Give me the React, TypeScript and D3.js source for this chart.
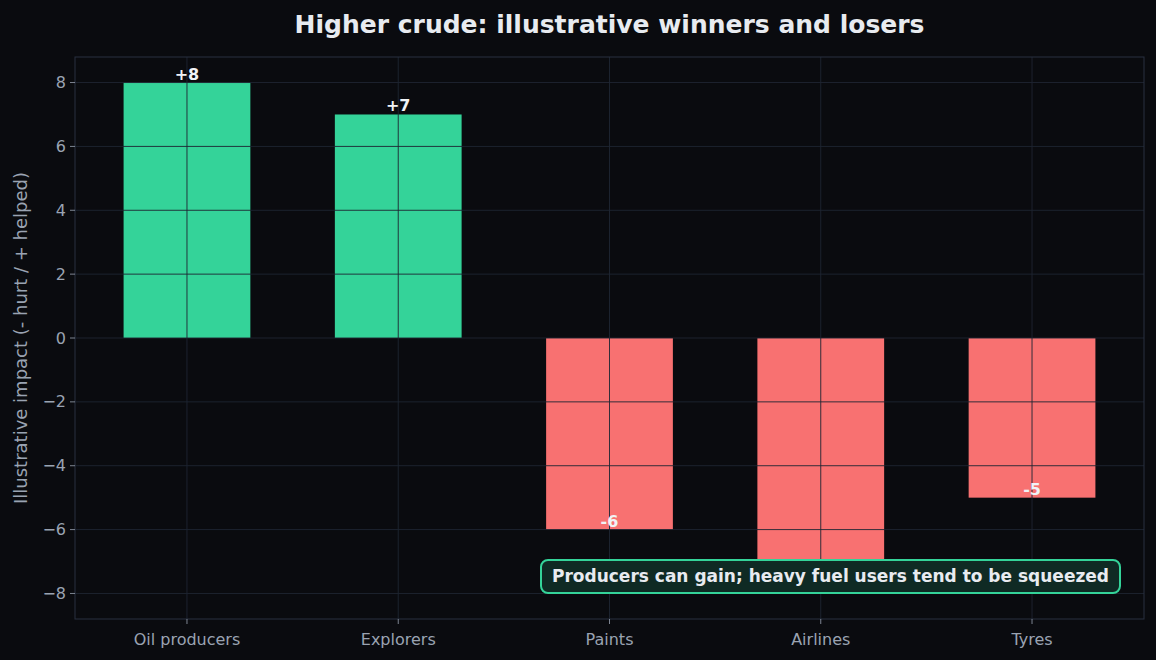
import React from 'react';
import * as d3 from 'd3';

const categories = ['Oil producers', 'Explorers', 'Paints', 'Airlines', 'Tyres'];
const impacts = [8, 7, -6, -8, -5];
const yTicks = [-8, -6, -4, -2, 0, 2, 4, 6, 8];
const title = 'Higher crude: illustrative winners and losers';
const yLabel = 'Illustrative impact (- hurt / + helped)';
const note = 'Producers can gain; heavy fuel users tend to be squeezed';

const W = 1156;
const H = 660;
const margin = { top: 57, right: 12, bottom: 41, left: 75 };

const BG = '#0a0b0f';
const GRID = '#1f2633';
const SPINE = '#283040';
const TICK = '#9aa3b2';
const GREEN = '#34d399';
const RED = '#f87171';
const FONT = '"DejaVu Sans", sans-serif';

const App: React.FC = () => {
  const innerW = W - margin.left - margin.right;
  const innerH = H - margin.top - margin.bottom;

  // matplotlib-style linear x with 5% margins around bars of width 0.6
  const x = d3.scaleLinear().domain([-0.53, categories.length - 1 + 0.53]).range([0, innerW]);
  const y = d3.scaleLinear().domain([-8.8, 8.8]).range([innerH, 0]);
  const barW = x(0.6) - x(0);

  const fmt = (v: number) => (v < 0 ? '\u2212' + Math.abs(v) : String(v));

  return (
    <svg width={W} height={H} style={{ display: 'block', position: 'absolute', left: 0, top: 0 }}>
      <rect width={W} height={H} fill={BG} />
      <text x={margin.left + innerW / 2} y={33} textAnchor="middle" fill="#e8ebf0"
        fontFamily={FONT} fontSize={25} fontWeight="bold">{title}</text>

      <g transform={`translate(${margin.left},${margin.top})`}>
        {/* bars */}
        {impacts.map((v, i) => (
          <rect key={categories[i]} x={x(i) - barW / 2} y={y(Math.max(0, v))}
            width={barW} height={Math.abs(y(v) - y(0))} fill={v >= 0 ? GREEN : RED} />
        ))}

        {/* grid drawn over the bars */}
        {yTicks.map(t => (
          <line key={'gy' + t} x1={0} x2={innerW} y1={y(t)} y2={y(t)} stroke={GRID} strokeWidth={1} opacity={0.9} />
        ))}
        {categories.map((c, i) => (
          <line key={'gx' + c} x1={x(i)} x2={x(i)} y1={0} y2={innerH} stroke={GRID} strokeWidth={1} opacity={0.9} />
        ))}

        {/* value labels */}
        {impacts.map((v, i) => (
          <text key={'l' + i} x={x(i)} y={y(v) - 3} textAnchor="middle" fill="#f1f3f6"
            fontFamily={FONT} fontSize={16} fontWeight="bold">{v > 0 ? '+' + v : String(v)}</text>
        ))}

        {/* spines */}
        <rect x={0} y={0} width={innerW} height={innerH} fill="none" stroke={SPINE} strokeWidth={1} />

        {/* y ticks */}
        {yTicks.map(t => (
          <g key={'ty' + t} transform={`translate(0,${y(t)})`}>
            <line x1={-5} x2={0} stroke={TICK} strokeWidth={0.8} />
            <text x={-9} dy="0.35em" textAnchor="end" fill={TICK} fontFamily={FONT} fontSize={16}>{fmt(t)}</text>
          </g>
        ))}

        {/* x ticks */}
        {categories.map((c, i) => (
          <g key={'tx' + c} transform={`translate(${x(i)},${innerH})`}>
            <line y1={0} y2={5} stroke={TICK} strokeWidth={0.8} />
            <text y={26} textAnchor="middle" fill={TICK} fontFamily={FONT} fontSize={16}>{c}</text>
          </g>
        ))}

        <text transform={`translate(${21 - margin.left},${innerH / 2}) rotate(-90)`} dy="0.35em"
          textAnchor="middle" fill={TICK} fontFamily={FONT} fontSize={18}>{yLabel}</text>

        {/* annotation box sits over the Airlines bar end, as in the source */}
        <g transform={`translate(${1120 - margin.left},${593 - margin.top})`}>
          <rect x={-579} y={-33} width={579} height={33} rx={7} fill="#0f2a24" stroke={GREEN} strokeWidth={2} />
          <text x={-289.5} y={-16.5} dy="0.35em" textAnchor="middle" fill="#e8ebf0"
            fontFamily={FONT} fontSize={17} fontWeight="bold">{note}</text>
        </g>
      </g>
    </svg>
  );
};

export default App;
